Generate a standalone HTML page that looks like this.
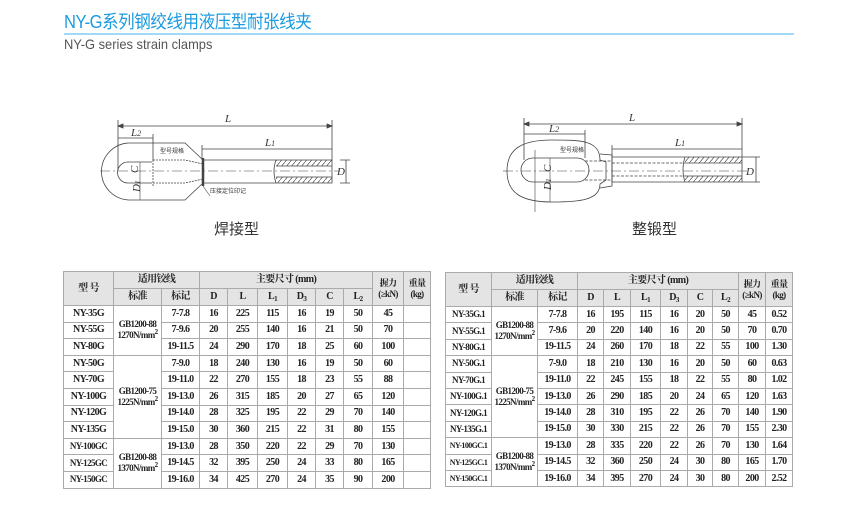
<!DOCTYPE html>
<html><head><meta charset="utf-8"><style>
html,body{margin:0;padding:0;background:#fff;width:856px;height:508px;overflow:hidden;position:relative}
.t1{position:absolute;left:64px;top:11px;font:18px/22px "Liberation Sans","Noto Sans CJK SC",sans-serif;color:#1a9be0;letter-spacing:-0.5px;transform:scaleX(0.92);transform-origin:left}
.ln{position:absolute;left:64px;top:33px;width:730px;height:2px;background:#9fd9f7}
.t2{position:absolute;left:64px;top:36px;font:14px "Liberation Sans",sans-serif;color:#555;transform:scaleX(0.92);transform-origin:left}
table{position:absolute;border-collapse:collapse;table-layout:fixed;font:bold 10px/12px "Liberation Serif","Noto Serif CJK SC",serif;color:#222;letter-spacing:-0.6px}
td{border:1px solid #aaa;text-align:center;padding:0;white-space:nowrap;overflow:hidden}
tr.h td{background:#e4e4e4;height:16px}
td.s{font-size:9px;line-height:11px}
sub{font-size:7px;vertical-align:-2px;line-height:0}
sup{font-size:7px;vertical-align:4px;line-height:0}
.cap{position:absolute;font:15px "Liberation Sans","Noto Sans CJK SC",sans-serif;color:#333}
</style></head><body>
<div class="t1">NY-G系列钢绞线用液压型耐张线夹</div>
<div class="ln"></div>
<div class="t2">NY-G series strain clamps</div>

<svg width="856" height="508" style="position:absolute;left:0;top:0" fill="none" stroke="#444" stroke-width="0.8">
<defs>
<pattern id="hp" width="5" height="6" patternUnits="userSpaceOnUse"><path d="M0 6 L5 0" stroke="#444" stroke-width="0.7"/></pattern>
</defs>
<g>
<path d="M118 126 H332 M118 120 V170 M332 120 V160" />
<path d="M118 126 l5 -2 v4z M332 126 l-5 -2 v4z" fill="#444"/>
<path d="M118 138 H153 M153 134 V160"/>
<path d="M202 149 H332 M202 145 V160"/>
<path d="M150 143 H130 A28 28 0 0 0 130 200 H185 L203 183 V160 L185 143 H150"/>
<path d="M152 162 H128 A10.5 10.5 0 0 0 128 183 H152"/>
<path d="M153 160 V186 M153 160 L185 160 L203 164 M153 183 L185 183 L203 179" stroke-dasharray="2 1"/>
<path d="M203 160 H332 V183 H203Z"/>
<path d="M203 158 V186" stroke-width="2.5"/>
<rect x="276" y="160" width="56" height="6" fill="url(#hp)" stroke="none"/>
<rect x="276" y="177" width="56" height="6" fill="url(#hp)" stroke="none"/>
<path d="M276 166 H332 M276 177 H332 M276 160 Q272 171 276 183" />
<path d="M100 171 H340" stroke-dasharray="10 3 2 3" stroke-width="0.6"/>
<path d="M340 160 H350 M340 183 H350 M346 160 V183"/>
<path d="M140 162 V200" stroke-width="0.6"/>
<path d="M203 186 L210 196" stroke-width="0.6"/>
</g>
<g font-family="Liberation Serif" font-style="italic" fill="#333" stroke="none" font-size="11">
<text x="225" y="122">L</text><text x="131" y="136">L<tspan font-size="8">2</tspan></text>
<text x="265" y="146">L<tspan font-size="8">1</tspan></text>
<text x="135" y="176" transform="rotate(-90 135 173)">C</text>
<text x="136" y="196" transform="rotate(-90 136 192)">D<tspan font-size="7">1</tspan></text>
<text x="337" y="175">D</text>
<text x="160" y="153" font-style="normal" font-size="6" font-family="Noto Sans CJK SC">型号规格</text>
<text x="210" y="193" font-style="normal" font-size="6" font-family="Noto Sans CJK SC">压接定位印记</text>
</g>
<g>
<path d="M524 124 H742 M524 118 V160 M742 118 V157"/>
<path d="M524 124 l5 -2 v4z M742 124 l-5 -2 v4z" fill="#444"/>
<path d="M524 134 H585 M585 130 V158"/>
<path d="M612 149 H742 M612 145 V157"/>
<path d="M600 160 C600 140 580 140 552 140 C520 140 507 150 507 171 C507 192 520 202 552 202 C580 202 600 200 600 184 L606 180 V162 Z"/>
<path d="M600 154 L612 155 V186 L600 188"/>
<path d="M533 158 H577 A12 12 0 0 1 577 182 H533 A12 12 0 0 1 533 158Z"/>
<path d="M585 161 H612 M585 180 H612" stroke-dasharray="3 1.5"/>
<path d="M612 157 H742 V182 H612Z"/>
<rect x="685" y="157" width="57" height="6" fill="url(#hp)" stroke="none"/>
<rect x="685" y="176" width="57" height="6" fill="url(#hp)" stroke="none"/>
<path d="M685 163 H742 M685 176 H742 M685 157 Q681 170 685 182"/>
<path d="M612 163 H685 M612 176 H685" stroke-dasharray="3 1.5"/>
<path d="M503 171 H748" stroke-dasharray="10 3 2 3" stroke-width="0.6"/>
<path d="M742 157 H760 M742 182 H760 M756 157 V182"/>
<path d="M550 158 V202" stroke-width="0.6"/>
<path d="M535 150 V212" stroke-width="0.6"/>
</g>
<g font-family="Liberation Serif" font-style="italic" fill="#333" stroke="none" font-size="11">
<text x="629" y="121">L</text><text x="549" y="132">L<tspan font-size="8">2</tspan></text>
<text x="675" y="146">L<tspan font-size="8">1</tspan></text>
<text x="547" y="176" transform="rotate(-90 547 172)">C</text>
<text x="547" y="194" transform="rotate(-90 547 190)">D<tspan font-size="7">1</tspan></text>
<text x="746" y="175">D</text>
<text x="560" y="152" font-style="normal" font-size="6" font-family="Noto Sans CJK SC">型号规格</text>
</g>
</svg>
<div class="cap" style="left:214px;top:218px">焊接型</div>
<div class="cap" style="left:632px;top:218px">整锻型</div>

<table style="left:63px;top:271px;width:367px">
<colgroup><col style="width:50px"><col style="width:48px"><col style="width:38px"><col style="width:28px"><col style="width:30px"><col style="width:30px"><col style="width:28px"><col style="width:28px"><col style="width:29px"><col style="width:31px"><col style="width:27px"></colgroup>
<tr class="h"><td rowspan="2">型 号</td><td colspan="2">适用铰线</td><td colspan="6">主要尺寸 (mm)</td><td rowspan="2" class="s">握力<br>(≥kN)</td><td rowspan="2" class="s">重量<br>(kg)</td></tr>
<tr class="h"><td>标准</td><td>标记</td><td>D</td><td>L</td><td>L<sub>1</sub></td><td>D<sub>3</sub></td><td>C</td><td>L<sub>2</sub></td></tr>
<tr style="height:16.6px"><td>NY-35G</td><td rowspan="3" class="s">GB1200-88<br>1270N/mm<sup>2</sup></td><td>7-7.8</td><td>16</td><td>225</td><td>115</td><td>16</td><td>19</td><td>50</td><td>45</td><td></td></tr>
<tr style="height:16.6px"><td>NY-55G</td><td>7-9.6</td><td>20</td><td>255</td><td>140</td><td>16</td><td>21</td><td>50</td><td>70</td><td></td></tr>
<tr style="height:16.6px"><td>NY-80G</td><td>19-11.5</td><td>24</td><td>290</td><td>170</td><td>18</td><td>25</td><td>60</td><td>100</td><td></td></tr>
<tr style="height:16.6px"><td>NY-50G</td><td rowspan="5" class="s">GB1200-75<br>1225N/mm<sup>2</sup></td><td>7-9.0</td><td>18</td><td>240</td><td>130</td><td>16</td><td>19</td><td>50</td><td>60</td><td></td></tr>
<tr style="height:16.6px"><td>NY-70G</td><td>19-11.0</td><td>22</td><td>270</td><td>155</td><td>18</td><td>23</td><td>55</td><td>88</td><td></td></tr>
<tr style="height:16.6px"><td>NY-100G</td><td>19-13.0</td><td>26</td><td>315</td><td>185</td><td>20</td><td>27</td><td>65</td><td>120</td><td></td></tr>
<tr style="height:16.6px"><td>NY-120G</td><td>19-14.0</td><td>28</td><td>325</td><td>195</td><td>22</td><td>29</td><td>70</td><td>140</td><td></td></tr>
<tr style="height:16.6px"><td>NY-135G</td><td>19-15.0</td><td>30</td><td>360</td><td>215</td><td>22</td><td>31</td><td>80</td><td>155</td><td></td></tr>
<tr style="height:16.6px"><td class="s">NY-100GC</td><td rowspan="3" class="s">GB1200-88<br>1370N/mm<sup>2</sup></td><td>19-13.0</td><td>28</td><td>350</td><td>220</td><td>22</td><td>29</td><td>70</td><td>130</td><td></td></tr>
<tr style="height:16.6px"><td class="s">NY-125GC</td><td>19-14.5</td><td>32</td><td>395</td><td>250</td><td>24</td><td>33</td><td>80</td><td>165</td><td></td></tr>
<tr style="height:16.6px"><td class="s">NY-150GC</td><td>19-16.0</td><td>34</td><td>425</td><td>270</td><td>24</td><td>35</td><td>90</td><td>200</td><td></td></tr>
</table>

<table style="left:445px;top:272px;width:347px">
<colgroup><col style="width:46px"><col style="width:46px"><col style="width:40px"><col style="width:26px"><col style="width:27px"><col style="width:30px"><col style="width:27px"><col style="width:25px"><col style="width:26px"><col style="width:27px"><col style="width:27px"></colgroup>
<tr class="h"><td rowspan="2">型 号</td><td colspan="2">适用铰线</td><td colspan="6">主要尺寸 (mm)</td><td rowspan="2" class="s">握力<br>(≥kN)</td><td rowspan="2" class="s">重量<br>(kg)</td></tr>
<tr class="h"><td>标准</td><td>标记</td><td>D</td><td>L</td><td>L<sub>1</sub></td><td>D<sub>3</sub></td><td>C</td><td>L<sub>2</sub></td></tr>
<tr style="height:16.4px"><td class="s">NY-35G.1</td><td rowspan="3" class="s">GB1200-88<br>1270N/mm<sup>2</sup></td><td>7-7.8</td><td>16</td><td>195</td><td>115</td><td>16</td><td>20</td><td>50</td><td>45</td><td>0.52</td></tr>
<tr style="height:16.4px"><td class="s">NY-55G.1</td><td>7-9.6</td><td>20</td><td>220</td><td>140</td><td>16</td><td>20</td><td>50</td><td>70</td><td>0.70</td></tr>
<tr style="height:16.4px"><td class="s">NY-80G.1</td><td>19-11.5</td><td>24</td><td>260</td><td>170</td><td>18</td><td>22</td><td>55</td><td>100</td><td>1.30</td></tr>
<tr style="height:16.4px"><td class="s">NY-50G.1</td><td rowspan="5" class="s">GB1200-75<br>1225N/mm<sup>2</sup></td><td>7-9.0</td><td>18</td><td>210</td><td>130</td><td>16</td><td>20</td><td>50</td><td>60</td><td>0.63</td></tr>
<tr style="height:16.4px"><td class="s">NY-70G.1</td><td>19-11.0</td><td>22</td><td>245</td><td>155</td><td>18</td><td>22</td><td>55</td><td>80</td><td>1.02</td></tr>
<tr style="height:16.4px"><td class="s">NY-100G.1</td><td>19-13.0</td><td>26</td><td>290</td><td>185</td><td>20</td><td>24</td><td>65</td><td>120</td><td>1.63</td></tr>
<tr style="height:16.4px"><td class="s">NY-120G.1</td><td>19-14.0</td><td>28</td><td>310</td><td>195</td><td>22</td><td>26</td><td>70</td><td>140</td><td>1.90</td></tr>
<tr style="height:16.4px"><td class="s">NY-135G.1</td><td>19-15.0</td><td>30</td><td>330</td><td>215</td><td>22</td><td>26</td><td>70</td><td>155</td><td>2.30</td></tr>
<tr style="height:16.4px"><td class="s" style="font-size:8px">NY-100GC.1</td><td rowspan="3" class="s">GB1200-88<br>1370N/mm<sup>2</sup></td><td>19-13.0</td><td>28</td><td>335</td><td>220</td><td>22</td><td>26</td><td>70</td><td>130</td><td>1.64</td></tr>
<tr style="height:16.4px"><td class="s" style="font-size:8px">NY-125GC.1</td><td>19-14.5</td><td>32</td><td>360</td><td>250</td><td>24</td><td>30</td><td>80</td><td>165</td><td>1.70</td></tr>
<tr style="height:16.4px"><td class="s" style="font-size:8px">NY-150GC.1</td><td>19-16.0</td><td>34</td><td>395</td><td>270</td><td>24</td><td>30</td><td>80</td><td>200</td><td>2.52</td></tr>
</table>
</body></html>
